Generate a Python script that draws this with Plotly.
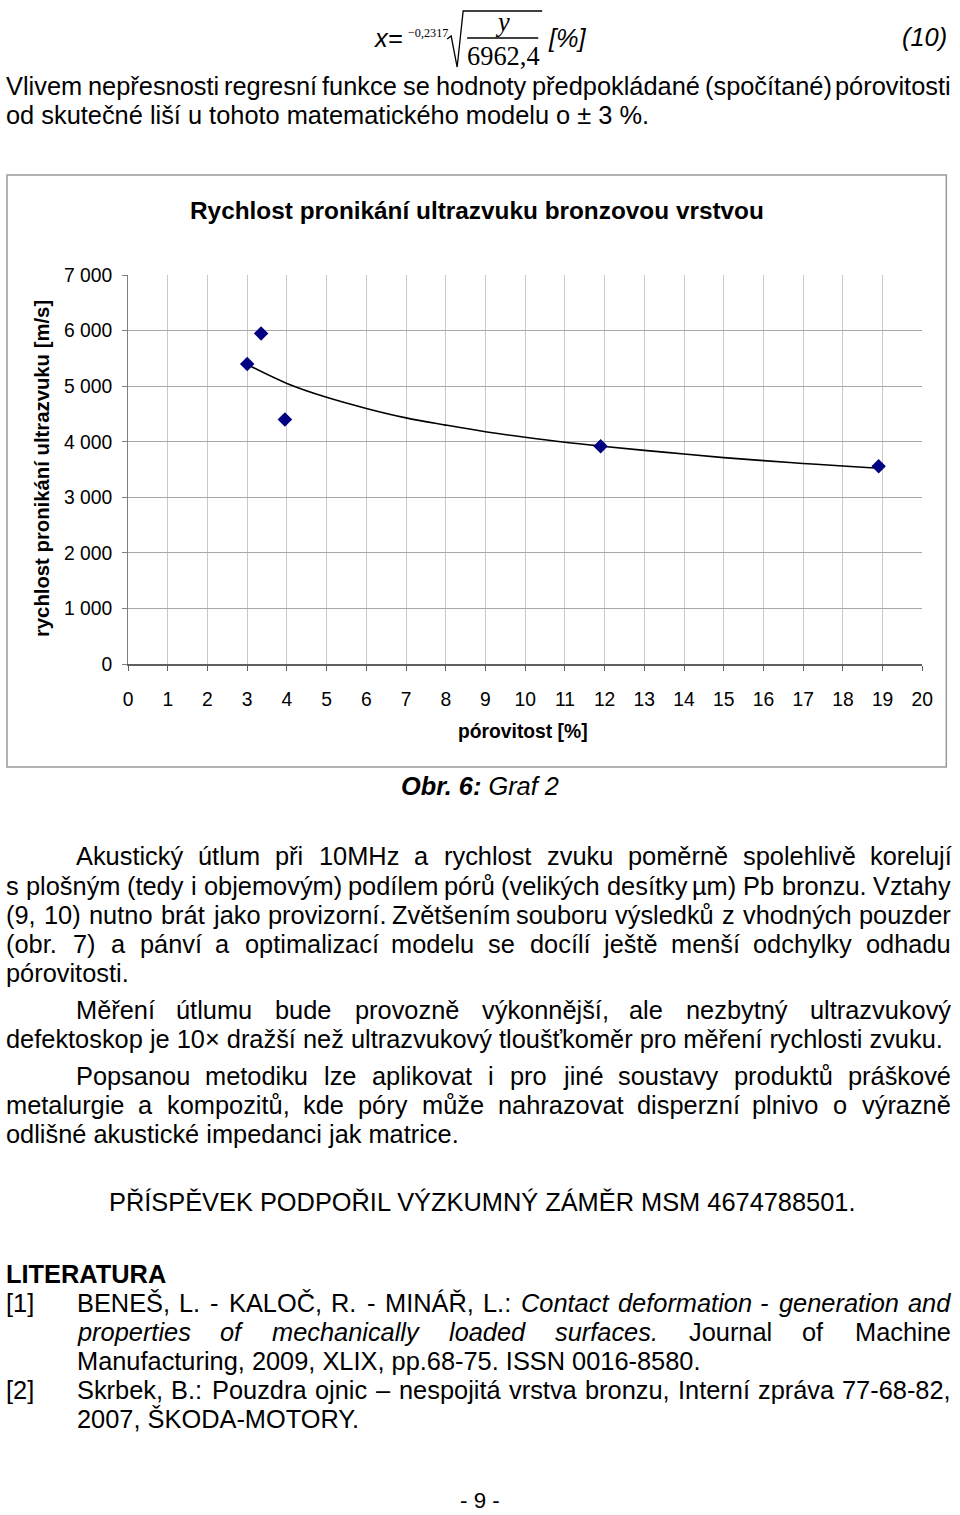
import unicodedata
import plotly.graph_objects as go

# measured points (porosity %, speed m/s)
porosity = [3.0, 3.35, 3.95, 11.9, 18.9]
speed = [5400, 5950, 4400, 3920, 3560]

# power trend line
trend_x = [3, 4, 5, 6, 7, 8, 9, 10, 11, 12, 13, 14, 15, 16, 17, 18, 18.9]
trend_y = [5390, 5050, 4800, 4600, 4430, 4300, 4180, 4080, 3990, 3915, 3845, 3780, 3715, 3660, 3610, 3565, 3525]

y_ticks = [0, 1000, 2000, 3000, 4000, 5000, 6000, 7000]
y_ticktext = ["0", "1 000", "2 000", "3 000", "4 000", "5 000", "6 000", "7 000"]
x_ticks = list(range(0, 21))

W, H = 960, 1515
FONT = "Liberation Sans, Arial, sans-serif"
SERIF = "Liberation Serif, Times New Roman, serif"

# the page shows up slightly shrunk and shifted, so positions are given in
# screen pixels and mapped back to paper coordinates here
SX, OX = 0.983, 5.0
SY, OY = 0.986, 9.0
S = (SX + SY) / 2


def px(x):
    return (x - OX) / SX / W


def py(y):
    return 1 - (y - OY) / SY / H


def fs(size):
    return size / S


BODY = 25

# Arial advance widths (per 1000 em), Liberation Sans has the same metrics
_w = {}
for ch, v in zip(" !\"#$%&'()*+,-./", [278, 278, 355, 556, 556, 889, 667, 191, 333, 333, 389, 584, 278, 333, 278, 278]):
    _w[ch] = v
for ch in "0123456789":
    _w[ch] = 556
for ch, v in zip(":;<=>?", [278, 278, 584, 584, 584, 556]):
    _w[ch] = v
for ch, v in zip("ABCDEFGHIJKLMNOPQRSTUVWXYZ",
                 [667, 667, 722, 722, 667, 611, 778, 722, 278, 500, 667, 556, 833, 722, 778, 667, 778, 722, 667, 611, 722, 667, 944, 667, 667, 611]):
    _w[ch] = v
for ch, v in zip("abcdefghijklmnopqrstuvwxyz",
                 [556, 556, 500, 556, 556, 278, 556, 556, 222, 222, 500, 222, 833, 556, 556, 556, 556, 333, 500, 278, 556, 500, 722, 500, 500, 500]):
    _w[ch] = v
_w.update({"[": 278, "]": 278, "×": 584, "±": 584, "µ": 556, "–": 556})


def text_width(s, size):
    s = s.replace("<i>", "").replace("</i>", "").replace("<b>", "").replace("</b>", "")
    total = 0
    for ch in s:
        base = unicodedata.normalize("NFD", ch)[0]
        total += _w.get(ch, _w.get(base, 556))
    return total / 1000 * size


annotations = []
shapes = []


def text(x, y, s, size=BODY, anchor="left", family=FONT, angle=0):
    annotations.append(dict(x=px(x), y=py(y), xref="paper", yref="paper", text=s, showarrow=False,
                            xanchor=anchor, yanchor="middle", textangle=angle, borderpad=0,
                            font=dict(family=family, size=fs(size), color="black")))


def justified(x0, x1, y, line, size=BODY):
    words = []
    italic = False
    for w in line.split(" "):
        if w.startswith("<i>"):
            italic = True
            w = w[3:]
        end = w.endswith("</i>")
        if end:
            w = w[:-4]
        words.append(f"<i>{w}</i>" if italic else w)
        if end:
            italic = False
    widths = [text_width(w, size) for w in words]
    gap = (x1 - x0 - sum(widths)) / (len(words) - 1)
    x = x0
    for w, wd in zip(words, widths):
        text(x, y, w, size)
        x += wd + gap


L, R = 5, 948

# formula (10)
text(372, 37, "<i>x=</i>", 25)
text(407, 32, "\u22120,2317", 12, family=SERIF)
text(502, 21, "<i>y</i>", 26, anchor="center", family=SERIF)
text(503, 55, "6962,4", 26, anchor="center", family=SERIF)
text(547, 37, "<i>[%]</i>", 25)
text(R, 36, "<i>(10)</i>", 25, anchor="right")


def path(points, color="black"):
    d = "M " + " L ".join(f"{px(a):.5f},{py(b):.5f}" for a, b in points)
    shapes.append(dict(type="path", path=d, xref="paper", yref="paper", line=dict(color=color, width=1.3)))


path([(447, 38), (451, 35), (457, 66), (463, 10), (542, 10)])
path([(467, 37), (538, 37)])

justified(L, R, 85, "Vlivem nepřesnosti regresní funkce se hodnoty předpokládané (spočítané) pórovitosti")
text(L, 114, "od skutečné liší u tohoto matematického modelu o ± 3 %.")

# chart frame
shapes.append(dict(type="rect", xref="paper", yref="paper", x0=px(7), x1=px(946), y0=py(174), y1=py(766),
                   line=dict(color="#9a9a9a", width=1.5)))

text(477, 209, "<b>Rychlost pronikání ultrazvuku bronzovou vrstvou</b>", 24, anchor="center")
text(42, 468, "<b>rychlost pronikání ultrazvuku [m/s]</b>", 20, anchor="center", angle=-90)
text(523, 730, "<b>pórovitost [%]</b>", 19, anchor="center")
text(480, 785, "<b><i>Obr. 6:</i></b><i> Graf 2</i>", 25, anchor="center")

justified(75, R, 855, "Akustický útlum při 10MHz a rychlost zvuku poměrně spolehlivě korelují")
justified(L, R, 885, "s plošným (tedy i objemovým) podílem pórů (velikých desítky µm) Pb bronzu. Vztahy")
justified(L, R, 914, "(9, 10) nutno brát jako provizorní. Zvětšením souboru výsledků z vhodných pouzder")
justified(L, R, 943, "(obr. 7) a pánví a optimalizací modelu se docílí ještě menší odchylky odhadu")
text(L, 972, "pórovitosti.")

justified(75, R, 1009, "Měření útlumu bude provozně výkonnější, ale nezbytný ultrazvukový")
text(L, 1038, "defektoskop je 10× dražší než ultrazvukový tloušťkoměr pro měření rychlosti zvuku.")

justified(75, R, 1075, "Popsanou metodiku lze aplikovat i pro jiné soustavy produktů práškové")
justified(L, R, 1104, "metalurgie a kompozitů, kde póry může nahrazovat disperzní plnivo o výrazně")
text(L, 1133, "odlišné akustické impedanci jak matrice.")

text(482, 1201, "PŘÍSPĚVEK PODPOŘIL VÝZKUMNÝ ZÁMĚR MSM 4674788501.", anchor="center")

text(L, 1273, "<b>LITERATURA</b>")
text(L, 1302, "[1]")
justified(76, R, 1302, "BENEŠ, L. - KALOČ, R. - MINÁŘ, L.: <i>Contact deformation - generation and</i>")
justified(76, R, 1331, "<i>properties of mechanically loaded surfaces.</i> Journal of Machine")
text(76, 1360, "Manufacturing, 2009, XLIX, pp.68-75. ISSN 0016-8580.")
text(L, 1389, "[2]")
justified(76, R, 1389, "Skrbek, B.: Pouzdra ojnic – nespojitá vrstva bronzu, Interní zpráva 77-68-82,")
text(76, 1418, "2007, ŠKODA-MOTORY.")

text(480, 1499, "- 9 -", 22, anchor="center")

fig = go.Figure()
fig.add_trace(go.Scatter(x=trend_x, y=trend_y, mode="lines", line=dict(color="black", width=1.6, shape="spline"),
                         hoverinfo="skip"))
fig.add_trace(go.Scatter(x=porosity, y=speed, mode="markers",
                         marker=dict(symbol="diamond", size=fs(11), color="#000080")))

fig.update_layout(
    width=W, height=H, margin=dict(l=0, r=0, t=0, b=0),
    paper_bgcolor="white", plot_bgcolor="white", showlegend=False,
    annotations=annotations, shapes=shapes,
    xaxis=dict(domain=[px(128), px(922)], range=[0, 20], tickvals=x_ticks, showgrid=True,
               gridcolor="#c8c8c8", gridwidth=1, showline=True, linecolor="#606060", linewidth=1.5,
               ticks="outside", ticklen=5, tickcolor="#606060", ticklabelstandoff=12,
               tickfont=dict(family=FONT, size=fs(19), color="black"), zeroline=False),
    yaxis=dict(domain=[py(663), py(274)], range=[0, 7000], tickvals=y_ticks, ticktext=y_ticktext,
               showgrid=True, gridcolor="#a8a8a8", gridwidth=1, showline=True, linecolor="#808080",
               linewidth=1, ticks="outside", ticklen=5, tickcolor="#808080", ticklabelstandoff=6,
               tickfont=dict(family=FONT, size=fs(19), color="black"), zeroline=False),
)

fig.write_html("out.html", config={"displayModeBar": False},
               post_script="document.body.style.margin='0';document.body.style.overflow='hidden';")
